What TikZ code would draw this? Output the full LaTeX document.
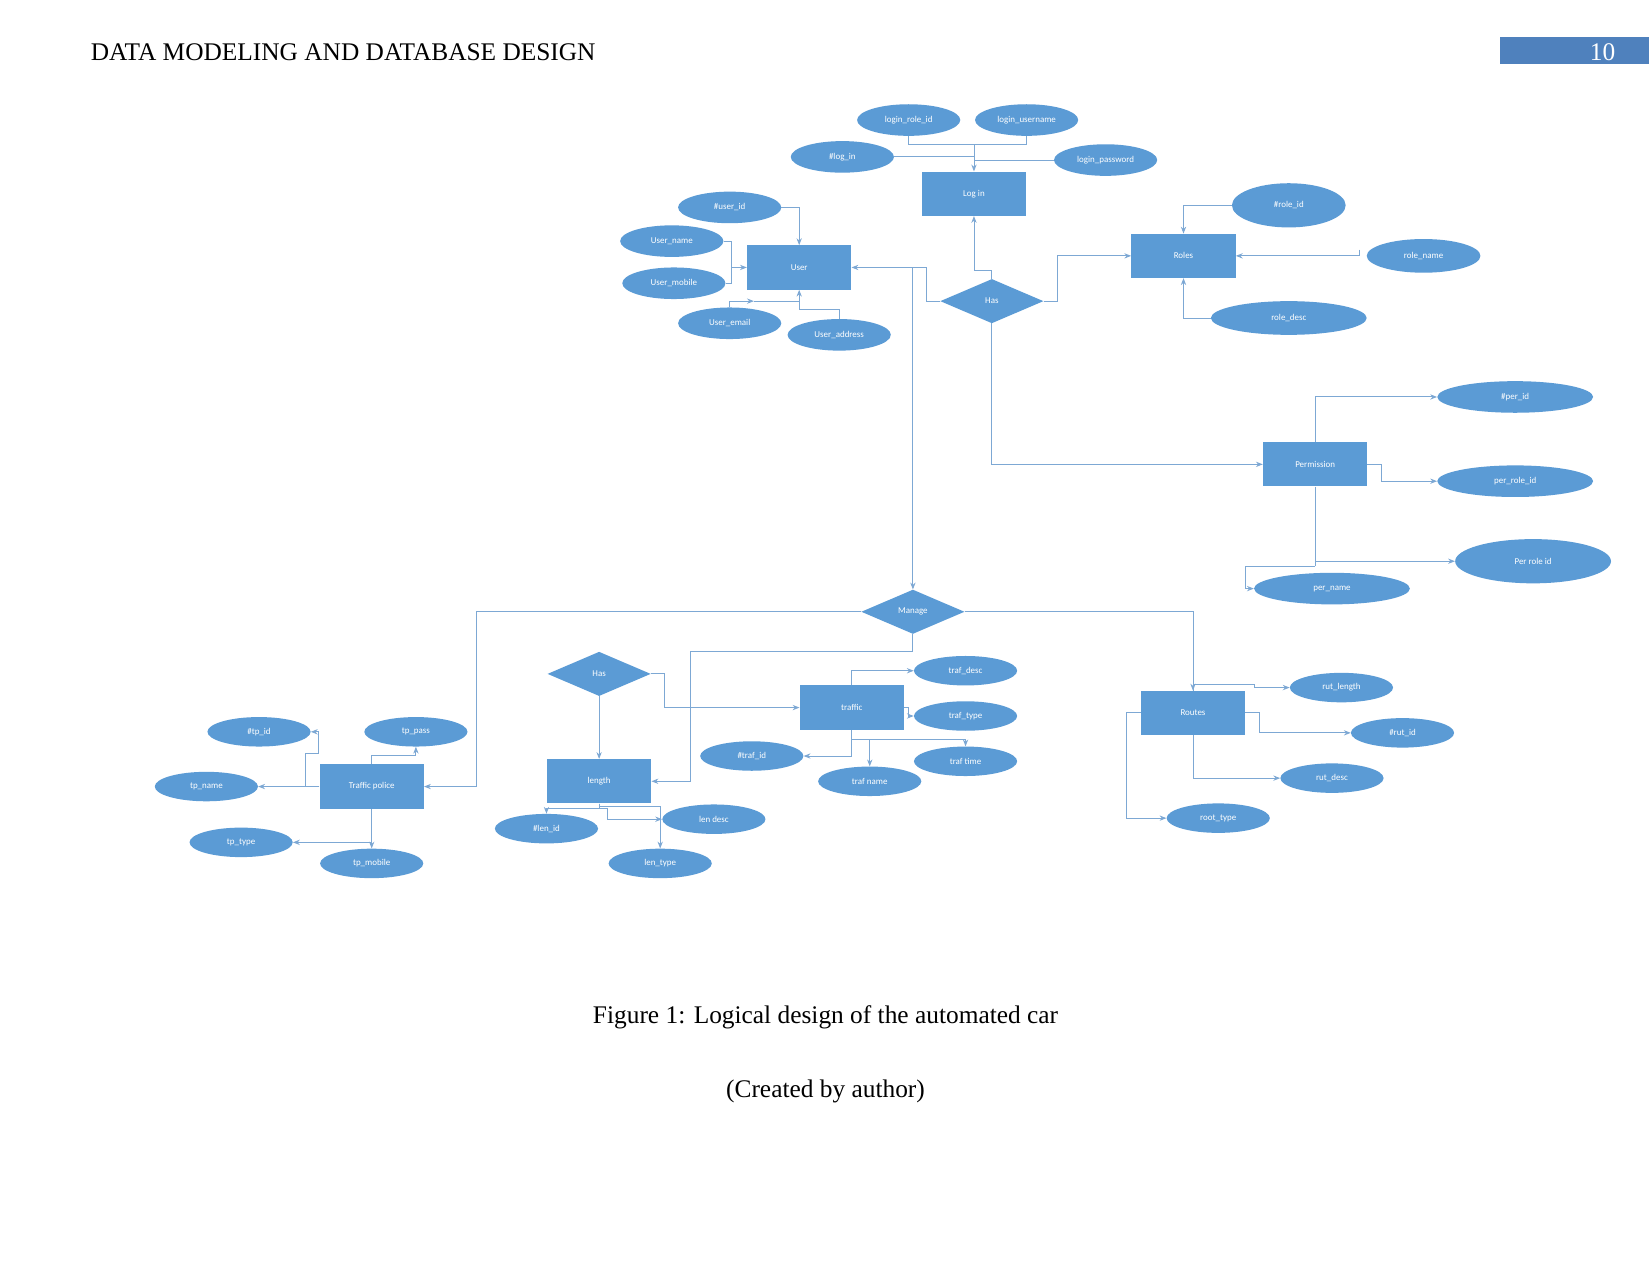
\documentclass[tikz,border=0pt]{standalone}
\usepackage{fontspec}
\setmainfont{Liberation Serif}
\newfontfamily\diagfont{Carlito}
\usetikzlibrary{shapes.geometric,arrows.meta}
\definecolor{nodeblue}{RGB}{91,155,213}
\definecolor{lineblue}{RGB}{125,168,212}
\definecolor{pageblue}{RGB}{79,129,189}
\begin{document}
\begin{tikzpicture}[x=1pt,y=-1pt,
  lbl/.style={text=white,font=\diagfont\fontsize{8.5}{10}\selectfont},
  ent/.style={rectangle,fill=nodeblue,minimum width=99pt,minimum height=42pt,inner sep=0pt,lbl},
  attr/.style={ellipse,fill=nodeblue,minimum width=98pt,minimum height=30pt,inner sep=0pt,lbl},
  rel/.style={diamond,fill=nodeblue,minimum width=98pt,minimum height=42pt,inner sep=0pt,lbl},
  conn/.style={draw=lineblue,line width=0.9pt},
  arr/.style={conn,-{Stealth[length=6.5pt,width=5pt]}},
  page/.style={inner sep=0pt,font=\fontsize{24.1}{28}\selectfont}]
\useasboundingbox[fill=white] (0,0) rectangle (1568,1211);

% header and caption
\node[page,anchor=base west] (hdr) at (86,57) {DATA MODELING AND DATABASE DESIGN};
\node[fill=pageblue,minimum width=142pt,minimum height=26pt,inner sep=0pt,anchor=north west] (pbox) at (1424,35) {};
\node[page,anchor=base,text=white] (pnum) at (1522,57) {10};
\node[page,anchor=base] (cap1) at (784,972) {Figure 1: Logical design of the automated car};
\node[page,anchor=base] (cap2) at (784,1042) {(Created by author)};

% Log in
\node[attr] (lri) at (863,114) {login\_role\_id};
\node[attr] (lus) at (975,114) {login\_username};
\node[attr] (lid) at (800,149) {\#log\_in};
\node[attr] (lpw) at (1050,152) {login\_password};
\node[ent] (login) at (925,184) {Log in};

% User
\node[attr] (uid) at (693,197) {\#user\_id};
\node[attr] (uname) at (638,229) {User\_name};
\node[attr] (umob) at (640,269) {User\_mobile};
\node[attr] (uemail) at (693,307) {User\_email};
\node[attr] (uaddr) at (797,318) {User\_address};
\node[ent] (user) at (759,254) {User};

% Has (upper)
\node[rel] (has1) at (942,286) {Has};

% Roles
\node[ent] (roles) at (1124,243) {Roles};
\node[attr,minimum width=108pt,minimum height=42pt] (rid) at (1224,195) {\#role\_id};
\node[attr,minimum width=108pt,minimum height=32pt] (rname) at (1352,243) {role\_name};
\node[attr,minimum width=148pt,minimum height=32pt] (rdesc) at (1224,302) {role\_desc};

% Permission
\node[ent] (perm) at (1249,441) {Permission};
\node[attr,minimum width=148pt] (pid) at (1439,377) {\#per\_id};
\node[attr,minimum width=148pt] (prid) at (1439,457) {per\_role\_id};
\node[attr,minimum width=148pt,minimum height=42pt] (prid2) at (1456,533) {Per role id};
\node[attr,minimum width=148pt] (pname) at (1265,559) {per\_name};

% Manage
\node[rel] (manage) at (867,581) {Manage};

% lower Has, length
\node[rel] (has2) at (569,640) {Has};
\node[ent] (len) at (569,742) {length};
\node[attr,minimum height=28pt] (lenid) at (519,787) {\#len\_id};
\node[attr,minimum height=28pt] (ldesc) at (678,778) {len desc};
\node[attr,minimum height=28pt] (ltype) at (627,820) {len\_type};

% traffic
\node[ent] (traffic) at (809,672) {traffic};
\node[attr,minimum height=28pt] (tdesc) at (917,637) {traf\_desc};
\node[attr,minimum height=28pt] (ttype) at (917,680) {traf\_type};
\node[attr,minimum height=28pt] (ttime) at (917,723) {traf time};
\node[attr,minimum height=28pt] (tname) at (826,742) {traf name};
\node[attr,minimum height=28pt] (tid) at (714,718) {\#traf\_id};

% Traffic police
\node[ent] (tp) at (353,747) {Traffic police};
\node[attr,minimum height=28pt] (tpid) at (246,695) {\#tp\_id};
\node[attr,minimum height=28pt] (tppass) at (395,695) {tp\_pass};
\node[attr,minimum height=28pt] (tpname) at (196,747) {tp\_name};
\node[attr,minimum height=28pt] (tptype) at (229,800) {tp\_type};
\node[attr,minimum height=28pt] (tpmob) at (353,820) {tp\_mobile};

% Routes
\node[ent] (routes) at (1133,677) {Routes};
\node[attr,minimum height=28pt] (rlen) at (1274,653) {rut\_length};
\node[attr,minimum height=28pt] (rid2) at (1332,696) {\#rut\_id};
\node[attr,minimum height=28pt] (rdesc2) at (1265,739) {rut\_desc};
\node[attr,minimum height=28pt] (rtype) at (1157,777) {root\_type};

% ---- connectors ----
% Log in
\coordinate (lj) at (925,137);
\draw[conn] (lri.south) |- (lj);
\draw[conn] (lus.south) |- (lj);
\draw[arr] (lj) -- (login.north);
\draw[conn] (lid.east) -- (lid.east -| login.north);
\draw[conn] (lpw.west) -- (lpw.west -| login.north);

% User
\draw[arr] (uid.east) -| (user.north);
\coordinate (uj) at (695,254);
\draw[conn] (uname.east) -| (uj);
\draw[conn] (umob.east) -| (uj);
\draw[arr] (uj) -- (user.west);
\coordinate (ue1) at (716,286);
\draw[arr] (uemail.north) |- (ue1);
\draw[conn] (ue1) -- (ue1 -| user.south);
\coordinate (ua1) at (797,294);
\draw[arr] (uaddr.north) -- (ua1) -| (user.south);

% Has (upper)
\draw[arr] (has1.north) -- ++(0,-8) -| (login.south);
\draw[arr] (has1.east) -- ++(13,0) |- (roles.west);
\draw[arr] (has1.west) -- ++(-13,0) |- (user.east);
\coordinate (mj) at (867,254);
\draw[arr] (mj) -- (manage.north);
\draw[arr] (has1.south) |- (perm.west);

% Roles
\draw[arr] (rid.west) -| (roles.north);
\coordinate (rnj) at (1291,237);
\draw[arr] (rnj) |- (roles.east);
\draw[arr] (rdesc.west) -| (roles.south);

% Permission
\draw[arr] (perm.north) |- (pid.west);
\draw[arr] (perm.east) -- ++(13,0) |- (prid.west);
\coordinate (pj1) at (1249,533);
\coordinate (pj2) at (1249,538);
\draw[conn] (perm.south) -- (pj2);
\draw[arr] (pj1) -- (prid2.west);
\draw[arr] (pj2) -- ++(-66,0) |- (pname.west);

% Manage
\draw[arr] (manage.west) -- ++(-365,0) |- (tp.east);
\draw[arr] (manage.east) -| (routes.north);
\coordinate (mlen) at (656,619);
\draw[arr] (manage.south) |- (mlen) |- (len.east);

% lower Has
\draw[arr] (has2.east) -- ++(13,0) |- (traffic.west);
\draw[arr] (has2.south) -- (len.north);

% length
\draw[arr] (len.south) -- ++(0,5) -| (lenid.north);
\draw[arr] (len.south) -- ++(0,3) -| (ltype.north);
\draw[arr] (len.south) -- ++(0,5) -- ++(8,0) |- (ldesc.west);

% traffic
\draw[arr] (traffic.north) |- (tdesc.west);
\draw[arr] (traffic.east) -- ++(4,0) |- (ttype.west);
\coordinate (tj) at (809,702);
\draw[arr] (traffic.south) |- (tid.east);
\draw[arr] (tj) -| (ttime.north);
\draw[arr] (tj -| tname.north) -- (tname.north);

% Traffic police
\draw[arr] (tp.west) -- ++(-13,0) |- ++(12,-31) |- (tpid.east);
\draw[arr] (tp.west) -- (tpname.east);
\draw[arr] (tp.north) -- ++(0,-8) -| (tppass.south);
\draw[arr] (tp.south) -- (tpmob.north);
\draw[arr] (tp.south |- tptype.east) -- (tptype.east);

% Routes
\draw[arr] (routes.north) -- ++(0,-6) -- ++(58,0) |- (rlen.west);
\draw[arr] (routes.east) -- ++(13,0) |- (rid2.west);
\draw[arr] (routes.south) |- (rdesc2.west);
\draw[arr] (routes.west) -- ++(-13,0) |- (rtype.west);
\end{tikzpicture}
\end{document}
